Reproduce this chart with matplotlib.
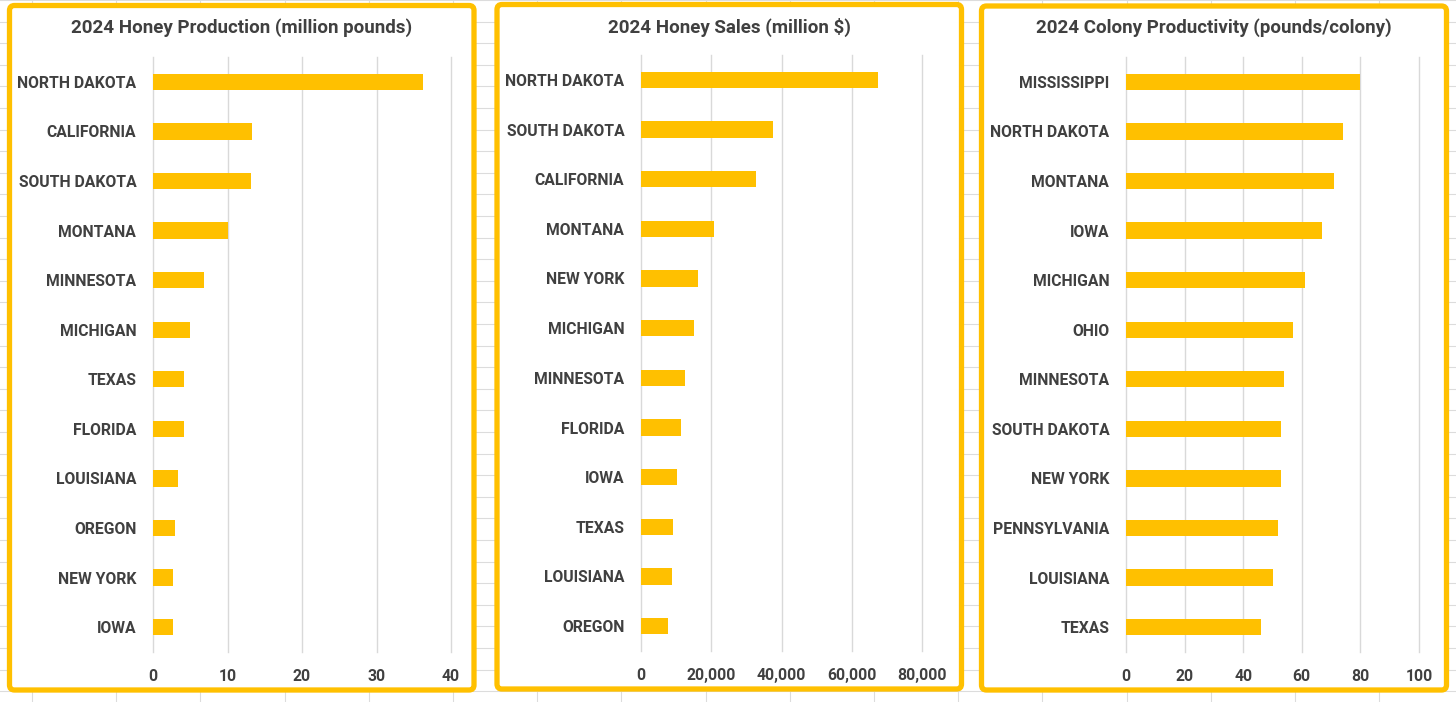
import numpy as np
import matplotlib
matplotlib.use("Agg")
import matplotlib.pyplot as plt
from matplotlib.patches import FancyBboxPatch
from matplotlib.lines import Line2D
from matplotlib.ticker import FuncFormatter

# --- data ---
prod_states = ["NORTH DAKOTA", "CALIFORNIA", "SOUTH DAKOTA", "MONTANA", "MINNESOTA",
               "MICHIGAN", "TEXAS", "FLORIDA", "LOUISIANA", "OREGON", "NEW YORK", "IOWA"]
prod_values = [36.2, 13.3, 13.2, 10.1, 6.8, 5.0, 4.1, 4.1, 3.4, 2.9, 2.7, 2.7]

sales_states = ["NORTH DAKOTA", "SOUTH DAKOTA", "CALIFORNIA", "MONTANA", "NEW YORK",
                "MICHIGAN", "MINNESOTA", "FLORIDA", "IOWA", "TEXAS", "LOUISIANA", "OREGON"]
sales_values = [67400, 37600, 32800, 20800, 16200, 15100, 12500, 11400, 10300, 9100, 8800, 7700]

prod_col_states = ["MISSISSIPPI", "NORTH DAKOTA", "MONTANA", "IOWA", "MICHIGAN", "OHIO",
                   "MINNESOTA", "SOUTH DAKOTA", "NEW YORK", "PENNSYLVANIA", "LOUISIANA", "TEXAS"]
prod_col_values = [80, 74, 71, 67, 61, 57, 54, 53, 53, 52, 50, 46]

titles = ["2024 Honey Production (million pounds)",
          "2024 Honey Sales (million $)",
          "2024 Colony Productivity (pounds/colony)"]
x_ticks = [[0, 10, 20, 30, 40],
           [0, 20000, 40000, 60000, 80000],
           [0, 20, 40, 60, 80, 100]]

W, H = 1456, 702
GOLD = "#FFC000"
TXT = "#404040"

plt.rcParams["font.family"] = ["Roboto", "DejaVu Sans"]

fig = plt.figure(figsize=(W / 100, H / 100), dpi=100)
fig.patch.set_facecolor("white")

# spreadsheet grid behind the charts
for x in np.arange(32, W, 84.2):
    fig.add_artist(Line2D([x / W, x / W], [0, 1], color="#DCDCDC", lw=0.8, zorder=0))
for y in np.arange(0, H, 21.6):
    fig.add_artist(Line2D([0, 1], [1 - y / H, 1 - y / H], color="#DCDCDC", lw=0.8, zorder=0))

# chart frames (pixel coords, y from top)
frames = [(9.5, 5.5, 474, 690), (497, 4.5, 961.5, 689), (981.5, 6, 1446.5, 690)]
for l, t, r, b in frames:
    box = FancyBboxPatch((l, H - b), r - l, b - t, boxstyle="round,pad=0,rounding_size=5",
                         transform=None, facecolor="white", edgecolor=GOLD, lw=3.8, zorder=1)
    fig.add_artist(box)

plot_areas = [(153, 57, 451, 652), (641, 55, 922, 651), (1126, 57, 1419, 652)]
title_pos = [(241.5, 28), (729, 27), (1214, 28)]
series = [(prod_states, prod_values), (sales_states, sales_values), (prod_col_states, prod_col_values)]

for i, ((l, t, r, b), (states, vals)) in enumerate(zip(plot_areas, series)):
    ax = fig.add_axes([l / W, 1 - b / H, (r - l) / W, (b - t) / H], zorder=2)
    ax.patch.set_alpha(0)
    y = np.arange(len(states))
    ax.barh(y, vals, height=0.33, color=GOLD, zorder=3)
    ax.set_ylim(len(states) - 0.5, -0.5)
    ax.set_xlim(x_ticks[i][0], x_ticks[i][-1])
    ax.set_xticks(x_ticks[i])
    ax.xaxis.set_major_formatter(FuncFormatter(lambda v, p: f"{v:,.0f}"))
    ax.set_yticks(y)
    ax.set_yticklabels(states)
    ax.grid(axis="x", color="#D9D9D9", lw=1.0, zorder=0)
    for gl in ax.get_xgridlines():
        gl.set_clip_on(False)
    ax.set_axisbelow(True)
    for s in ax.spines.values():
        s.set_visible(False)
    ax.tick_params(axis="both", length=0, colors=TXT)
    ax.tick_params(axis="y", pad=12)
    ax.tick_params(axis="x", pad=12)
    for lab in ax.get_xticklabels() + ax.get_yticklabels():
        lab.set_fontweight("bold")
        lab.set_fontsize(11.3)
        lab.set_color(TXT)
    tx, ty = title_pos[i]
    fig.text(tx / W, 1 - ty / H, titles[i], ha="center", va="center",
             fontsize=13.5, fontweight="bold", color=TXT, zorder=3)

fig.savefig("out.png", dpi=100)
